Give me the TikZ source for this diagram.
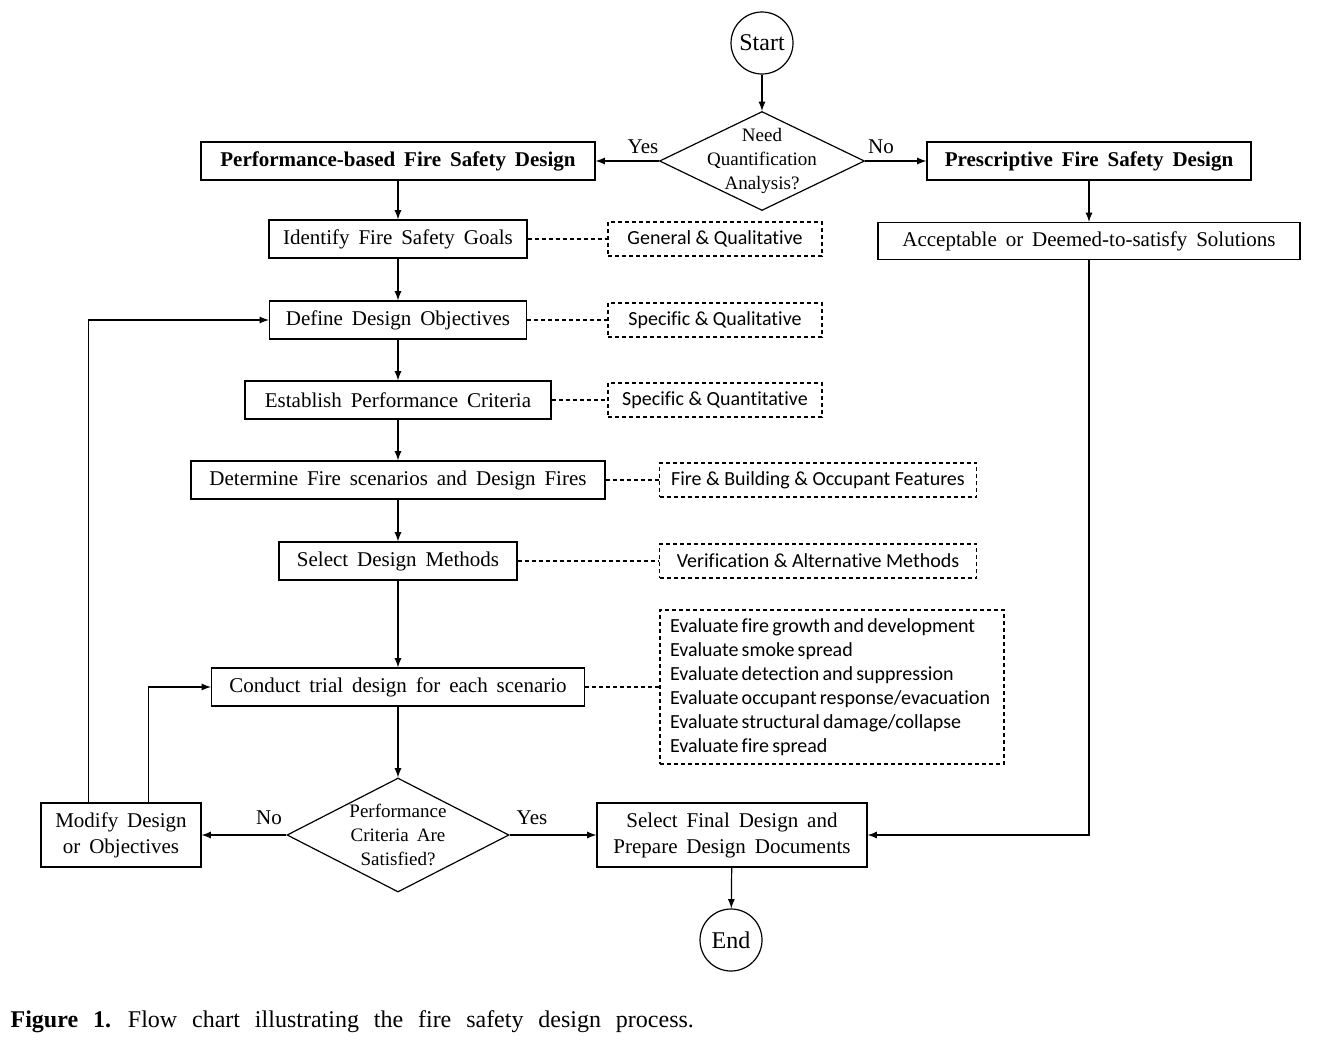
\documentclass[tikz,border=0pt]{standalone}
\usepackage{fontspec}
\setmainfont{Liberation Serif}[WordSpace=1.7]
\newfontfamily\notefont{Carlito}[Ligatures=NoCommon]
\usetikzlibrary{arrows,shapes.geometric}

\begin{document}
\begin{tikzpicture}[x=0.5pt,y=-0.5pt,line width=0.6pt,
  box/.style={draw,inner sep=0pt,minimum height=19pt,align=center,font=\fontsize{10.5}{13}\selectfont},
  note/.style={draw,dash pattern=on 2pt off 1.5pt,inner sep=0pt,minimum height=17pt,font=\notefont\fontsize{10}{12}\selectfont},
  decision/.style={draw,diamond,inner sep=0pt},
  dtext/.style={align=center,inner sep=0pt,font=\fontsize{9.5}{12}\selectfont},
  term/.style={draw,circle,minimum size=31pt,inner sep=0pt,font=\fontsize{12}{14}\selectfont},
  lbl/.style={inner sep=0pt,font=\fontsize{10.5}{13}\selectfont},
  flow/.style={-latex},
  link/.style={dash pattern=on 2pt off 1.5pt}]
\useasboundingbox (0,0) rectangle (1320,1039);
\node[term] (start) at (762,43) {Start};
\node[decision,minimum width=102.5pt,minimum height=49.5pt] (need) at (762,161) {};
\node[dtext] (needtext) at (need) {Need\\Quantification\\Analysis?};
\node[lbl] (yes1) at (643,147) {Yes};
\node[lbl] (no1) at (881,147) {No};
\node[box,minimum width=197pt,font=\fontsize{10.5}{13}\selectfont\bfseries] (pbd) at (398,161) {Performance-based Fire Safety Design};
\node[box,minimum width=162pt,font=\fontsize{10.5}{13}\selectfont\bfseries] (pres) at (1089,161) {Prescriptive Fire Safety Design};
\node[box,minimum width=211pt,minimum height=18.5pt] (accept) at (1089,241) {Acceptable or Deemed-to-satisfy Solutions};
% performance-based branch
\node[box,minimum width=129pt] (goals) at (398,239) {Identify Fire Safety Goals};
\node[box,minimum width=128.5pt] (objectives) at (398,320) {Define Design Objectives};
\node[box,minimum width=153pt] (criteria) at (398,400) {Establish Performance Criteria};
\node[box,minimum width=207pt] (scenarios) at (398,480) {Determine Fire scenarios and Design Fires};
\node[box,minimum width=119pt] (methods) at (398,561) {Select Design Methods};
\node[box,minimum width=186.5pt] (trial) at (398,687) {Conduct trial design for each scenario};
\node[decision,minimum width=111pt,minimum height=57pt] (check) at (398,835) {};
\node[dtext] (checktext) at (check) {Performance\\Criteria Are\\Satisfied?};
\node[lbl] (no2) at (269,818) {No};
\node[lbl] (yes2) at (532,818) {Yes};
\node[box,minimum width=80pt,minimum height=32pt] (modify) at (121,835) {Modify Design\\or Objectives};
\node[box,minimum width=135pt,minimum height=32pt] (final) at (732,835) {Select Final Design and\\Prepare Design Documents};
\node[term] (end) at (731,940) {End};
% notes
\node[note,minimum width=107pt] (general) at (715,239) {General \& Qualitative};
\node[note,minimum width=107pt] (specqual) at (715,320) {Specific \& Qualitative};
\node[note,minimum width=107pt] (specquant) at (715,400) {Specific \& Quantitative};
\node[note,minimum width=158.5pt] (features) at (818,480) {Fire \& Building \& Occupant Features};
\node[note,minimum width=158.5pt] (verify) at (818,561) {Verification \& Alternative Methods};
\node[note,text width=162pt,inner xsep=5pt,minimum height=77pt,align=left] (evaluate) at (832,687)
  {\spaceskip=1.6pt\relax\hyphenpenalty=10000\relax
   Evaluate fire growth and development\\Evaluate smoke spread\\Evaluate detection and suppression\\Evaluate occupant response/evacuation\\Evaluate structural damage/collapse\\Evaluate fire spread};
\node[anchor=west,inner sep=0pt,font=\fontsize{12}{14}\selectfont] (caption) at (10,1022)
  {\spaceskip=0.62em\relax\textbf{Figure 1.} Flow chart illustrating the fire safety design process.};
% connectors
\draw[flow] (start) -- (need);
\draw[flow] (need.west) -- (pbd);
\draw[flow] (need.east) -- (pres);
\draw[flow] (pres) -- (accept);
\path[flow] (pbd) edge (goals) (goals) edge (objectives) (objectives) edge (criteria)
  (criteria) edge (scenarios) (scenarios) edge (methods) (methods) edge (trial) (trial) edge (check.north);
\draw[flow] (check.west) -- (modify);
\draw[flow] (check.east) -- (final);
\draw[flow] (accept) |- (final);
\draw[flow] ([xshift=24pt]modify.north west) |- (objectives.west);
\draw[flow] ([xshift=54pt]modify.north west) |- (trial.west);
\draw[flow] (final) -- (end);
\path[link] (goals) edge (general) (objectives) edge (specqual) (criteria) edge (specquant)
  (scenarios) edge (features) (methods) edge (verify) (trial) edge (evaluate);
\end{tikzpicture}
\end{document}
